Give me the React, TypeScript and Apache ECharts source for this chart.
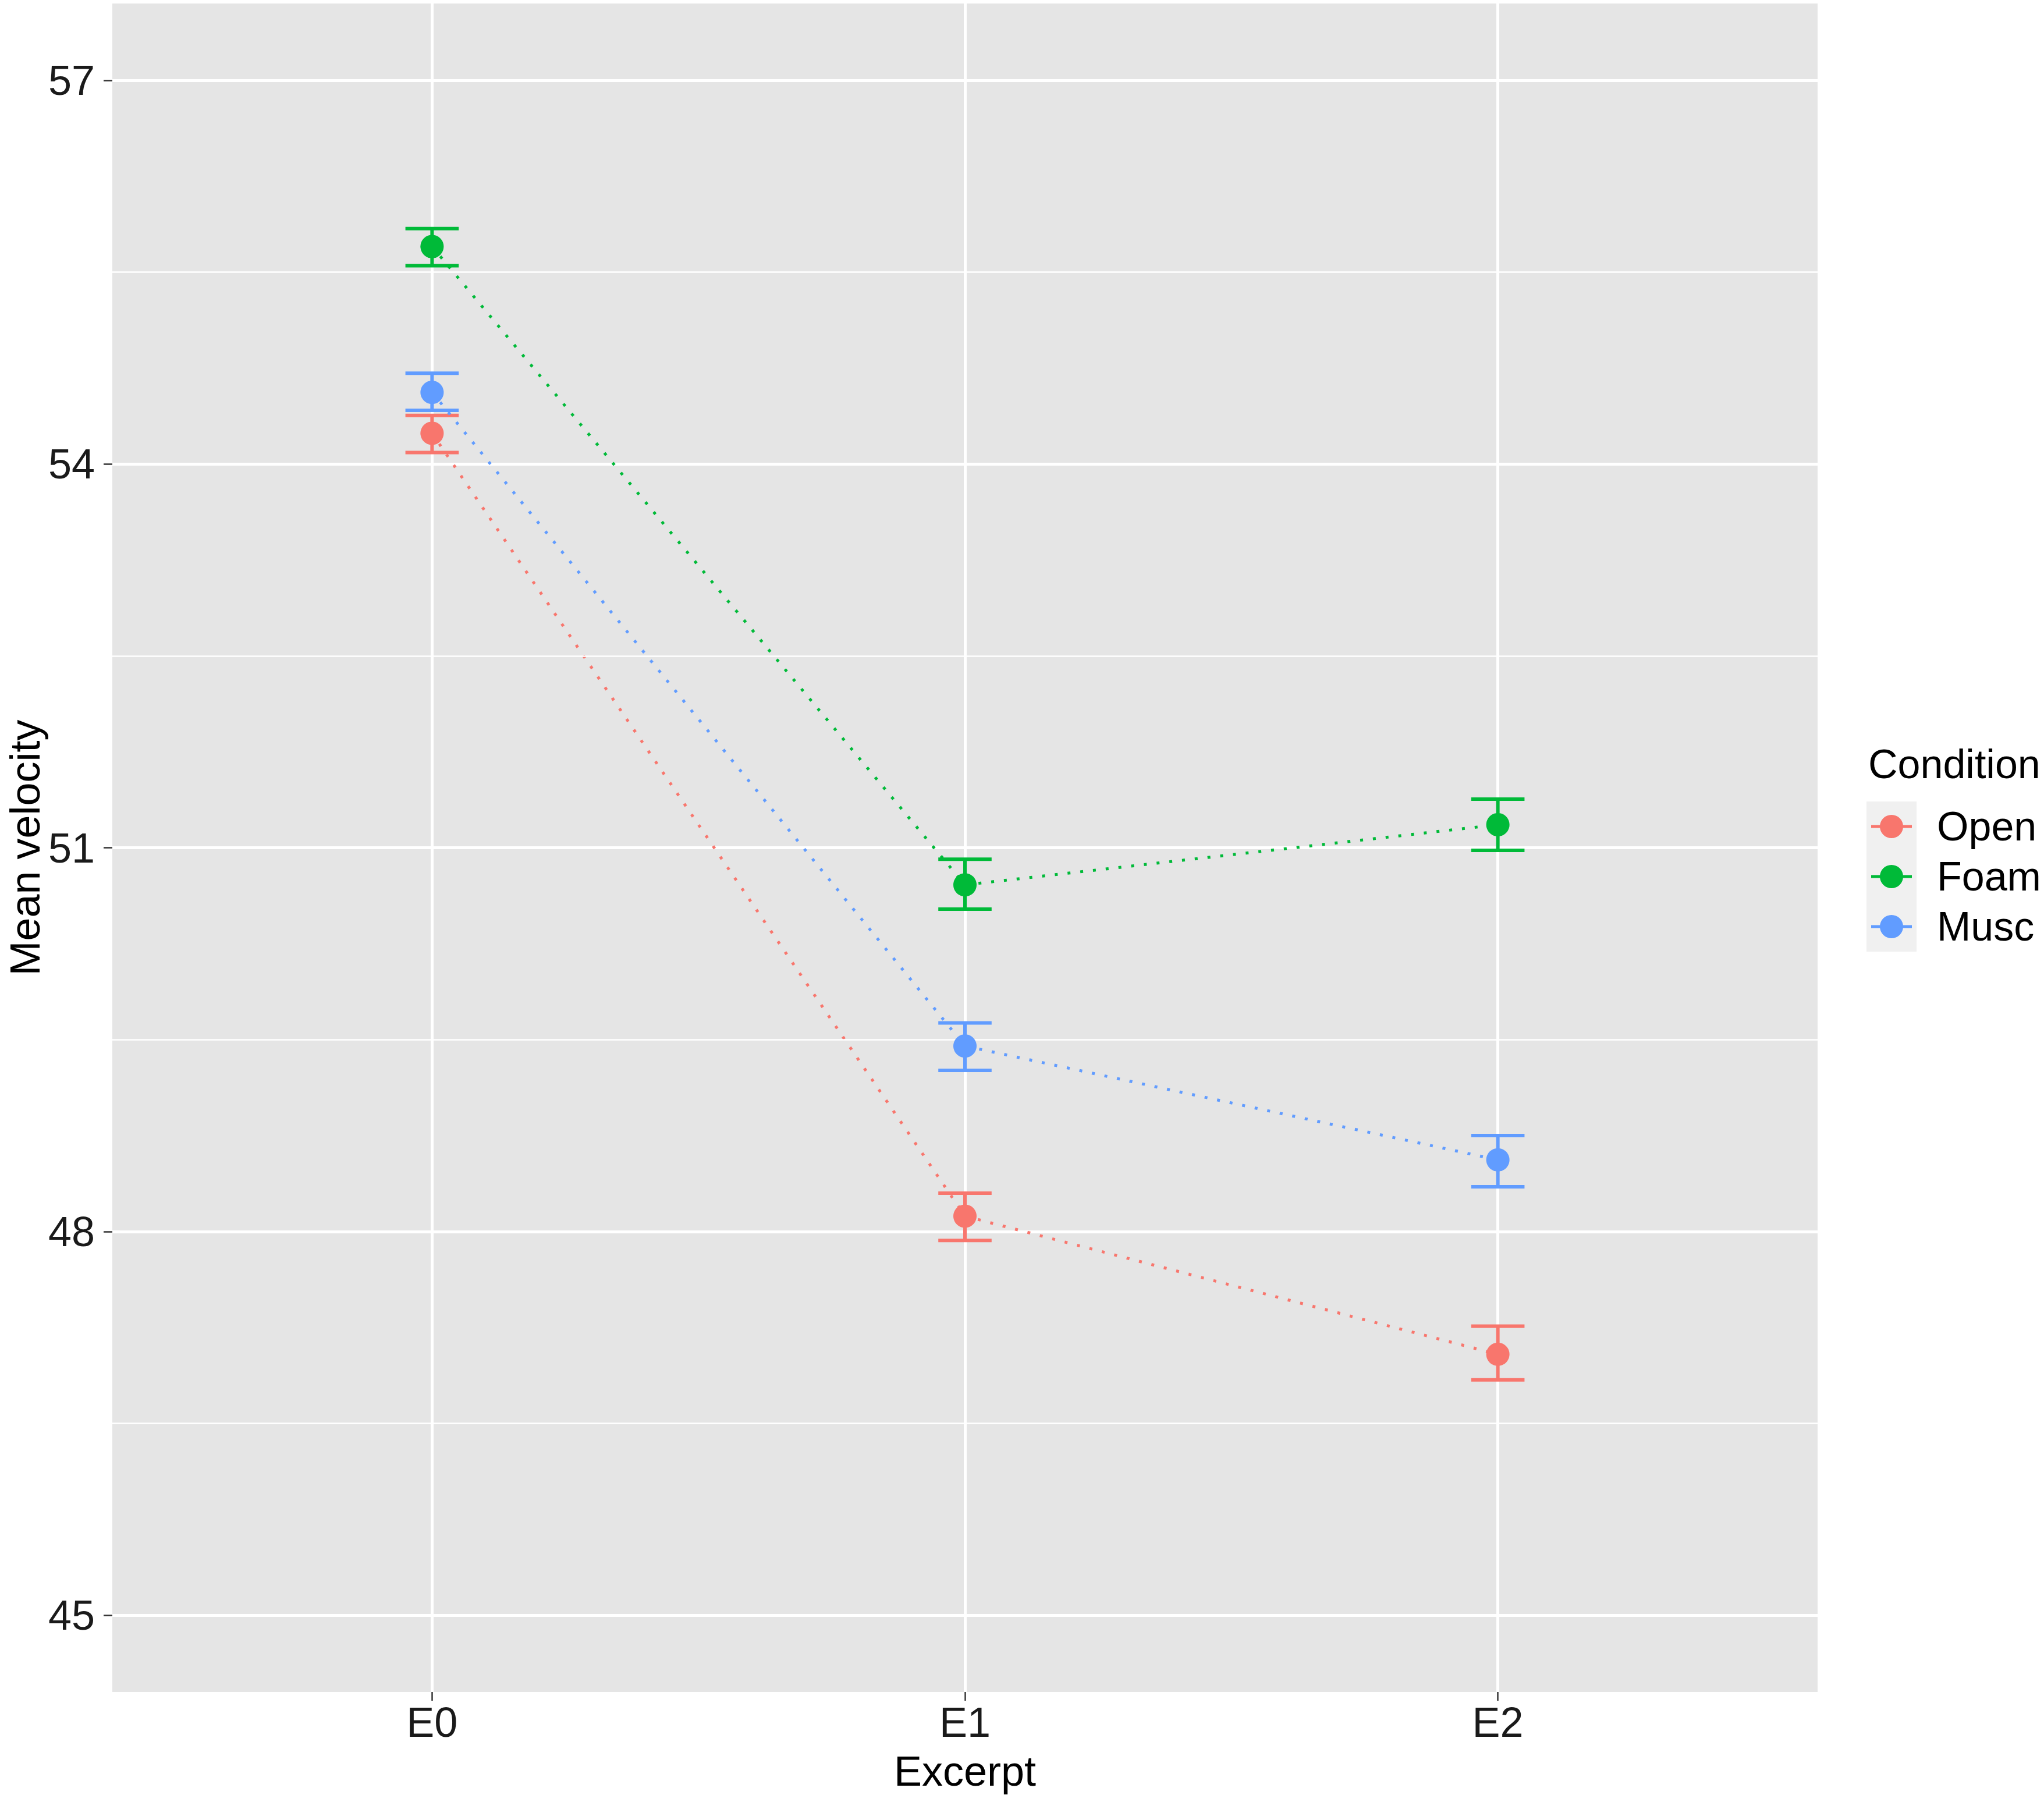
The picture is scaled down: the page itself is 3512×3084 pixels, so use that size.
import React, { useEffect, useRef } from "react";
import * as echarts from "echarts";

const categories = ["E0", "E1", "E2"];
const conditions = ["Open", "Foam", "Musc"];
const colors = ["#F8766D", "#00BA38", "#619CFF"];

const openMean = [54.24, 48.12, 47.04];
const openLow = [54.09, 47.93, 46.84];
const openHigh = [54.38, 48.3, 47.26];

const foamMean = [55.7, 50.71, 51.18];
const foamLow = [55.55, 50.52, 50.98];
const foamHigh = [55.84, 50.91, 51.38];

const muscMean = [54.56, 49.45, 48.56];
const muscLow = [54.42, 49.26, 48.35];
const muscHigh = [54.71, 49.63, 48.75];

const yTicks = [45, 48, 51, 54, 57];
const yMinorTicks = [46.5, 49.5, 52.5, 55.5];

const FONT = "'Liberation Sans', Arial, Helvetica, sans-serif";

export default function App() {
  const ref = useRef<HTMLDivElement>(null);

  useEffect(() => {
    if (!ref.current) return;
    const chart = echarts.init(ref.current, null, { renderer: "svg" });

    const means = [openMean, foamMean, muscMean];
    const lows = [openLow, foamLow, muscLow];
    const highs = [openHigh, foamHigh, muscHigh];
    const capHalf = 0.05;

    const iconPath =
      "path://M0,17.5H17V22.5H0Z M53,17.5H70V22.5H53Z M15,20a20,20 0 1,1 40,0a20,20 0 1,1 -40,0Z";

    const scatterSeries = conditions.map((name, k) => ({
      name,
      type: "scatter",
      symbol: "circle",
      symbolSize: 40,
      z: 5,
      itemStyle: { color: colors[k], opacity: 1 },
      data: categories.map((_, i) => [i, means[k][i]]),
    }));

    const lineSeries = conditions.map((name, k) => ({
      name,
      type: "line",
      z: 4,
      symbol: "none",
      lineStyle: { color: colors[k], width: 5, type: [5, 17] },
      data: categories.map((_, i) => [i, means[k][i]]),
    }));

    const errSeries = conditions.map((name, k) => ({
      name,
      type: "custom",
      z: 3,
      encode: { x: 0, y: [1, 2] },
      data: categories.map((_, i) => [i, lows[k][i], highs[k][i]]),
      renderItem: (params: any, api: any) => {
        const x = api.value(0);
        const lo = api.value(1);
        const hi = api.value(2);
        const top = api.coord([x, hi]);
        const bot = api.coord([x, lo]);
        const l = api.coord([x - capHalf, hi])[0];
        const r = api.coord([x + capHalf, hi])[0];
        const style = { stroke: colors[k], lineWidth: 6, fill: "none" };
        return {
          type: "group",
          children: [
            { type: "line", shape: { x1: top[0], y1: top[1], x2: bot[0], y2: bot[1] }, style },
            { type: "line", shape: { x1: l, y1: top[1], x2: r, y2: top[1] }, style },
            { type: "line", shape: { x1: l, y1: bot[1], x2: r, y2: bot[1] }, style },
          ],
        };
      },
    }));

    const minorGrid = {
      name: "minorGrid",
      type: "line",
      z: 1,
      data: [],
      silent: true,
      markLine: {
        silent: true,
        symbol: "none",
        label: { show: false },
        lineStyle: { color: "#FFFFFF", width: 2.5, type: "solid" },
        data: yMinorTicks.map((v) => ({ yAxis: v })),
      },
    };

    chart.setOption({
      animation: false,
      backgroundColor: "#FFFFFF",
      textStyle: { fontFamily: FONT },
      grid: {
        left: 193,
        right: 389,
        top: 6,
        bottom: 177,
        show: true,
        backgroundColor: "#E5E5E5",
        borderWidth: 0,
        containLabel: false,
        outerBoundsMode: "none",
      },
      title: {
        text: "Condition",
        left: 3205,
        top: 1273,
        textStyle: { fontFamily: FONT, fontSize: 70, fontWeight: "normal", color: "#000" },
      },
      legend: {
        orient: "vertical",
        left: 3215,
        top: 1385,
        padding: 0,
        itemWidth: 70,
        itemHeight: 40,
        itemGap: 16,
        selectedMode: false,
        textStyle: {
          fontFamily: FONT,
          fontSize: 70,
          lineHeight: 70,
          color: "#000",
          padding: [0, 0, 0, 38],
        },
        data: conditions.map((name, k) => ({
          name,
          icon: iconPath,
          itemStyle: { color: colors[k] },
        })),
      },
      graphic: [
        {
          type: "rect",
          z: 0,
          shape: { x: 3207, y: 1377, width: 86, height: 258 },
          style: { fill: "#F0F0F0" },
        },
      ],
      xAxis: {
        type: "value",
        min: -0.6,
        max: 2.6,
        name: "Excerpt",
        nameLocation: "middle",
        nameGap: 100,
        nameMoveOverlap: false,
        nameTextStyle: { fontFamily: FONT, fontSize: 72, color: "#000" },
        axisLine: { show: false, onZero: false },
        axisTick: {
          show: true,
          length: 15,
          lineStyle: { color: "#333", width: 2.5 },
          customValues: [0, 1, 2],
        },
        axisLabel: {
          fontFamily: FONT,
          fontSize: 72,
          color: "#1A1A1A",
          margin: 16,
          customValues: [0, 1, 2],
          formatter: (v: number) => categories[Math.round(v)] ?? "",
        },
        splitLine: { show: true, lineStyle: { color: "#FFFFFF", width: 5 } },
      },
      yAxis: {
        type: "value",
        min: 44.4,
        max: 57.6,
        name: "Mean velocity",
        nameLocation: "middle",
        nameGap: 114,
        nameMoveOverlap: false,
        nameRotate: 90,
        nameTextStyle: { fontFamily: FONT, fontSize: 72, color: "#000" },
        axisLine: { show: false, onZero: false },
        axisTick: {
          show: true,
          length: 15,
          lineStyle: { color: "#333", width: 2.5 },
          customValues: yTicks,
        },
        axisLabel: {
          fontFamily: FONT,
          fontSize: 72,
          color: "#1A1A1A",
          margin: 30,
          customValues: yTicks,
        },
        splitLine: { show: true, lineStyle: { color: "#FFFFFF", width: 5 } },
      },
      series: [minorGrid, ...errSeries, ...lineSeries, ...scatterSeries],
    });

    return () => chart.dispose();
  }, []);

  return (
    <div
      ref={ref}
      style={{ position: "absolute", left: 0, top: 0, width: 3512, height: 3084 }}
    />
  );
}
